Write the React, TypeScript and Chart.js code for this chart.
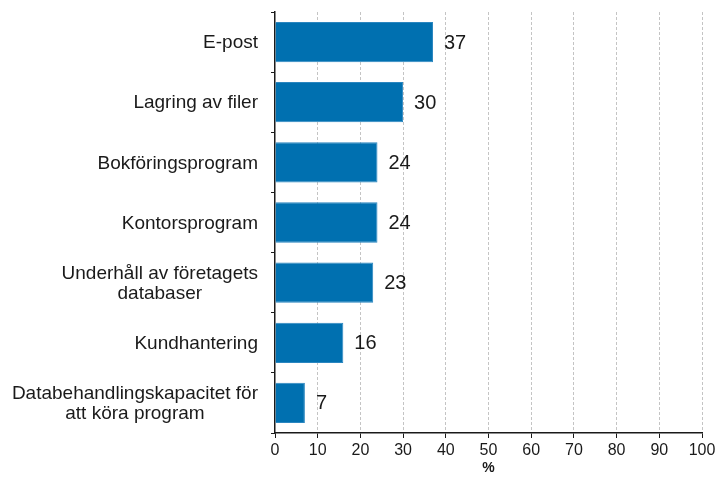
import React, { useEffect, useRef } from "react";
import { Chart, registerables } from "chart.js";

Chart.register(...registerables);

const categories: (string | string[])[] = [
  "E-post",
  "Lagring av filer",
  "Bokföringsprogram",
  "Kontorsprogram",
  ["Underhåll av företagets", "databaser"],
  "Kundhantering",
  ["Databehandlingskapacitet för", "att köra program"],
];
const values = [37, 30, 24, 24, 23, 16, 7];
const xTicks = [0, 10, 20, 30, 40, 50, 60, 70, 80, 90, 100];
const axisTitle = "%";

const FONT = "'Liberation Sans', Arial, sans-serif";
const TEXT = "#1a1a1a";

const valueLabels = {
  id: "valueLabels",
  afterDatasetsDraw(chart: any) {
    const ctx = chart.ctx;
    const meta = chart.getDatasetMeta(0);
    ctx.save();
    ctx.font = `20px ${FONT}`;
    ctx.fillStyle = TEXT;
    ctx.textAlign = "left";
    ctx.textBaseline = "middle";
    meta.data.forEach((bar: any, i: number) => {
      ctx.fillText(String(chart.data.datasets[0].data[i]), bar.x + 11, bar.y + 1);
    });
    ctx.restore();
  },
};

// Category labels: block right-aligned to the axis, lines centred within the block
const categoryLabels = {
  id: "categoryLabels",
  afterDraw(chart: any) {
    const ctx = chart.ctx;
    const yScale = chart.scales.y;
    const rightEdge = yScale.right - 17;
    const lh = 20;
    ctx.save();
    ctx.font = `19px ${FONT}`;
    ctx.fillStyle = TEXT;
    ctx.textBaseline = "middle";
    ctx.textAlign = "center";
    chart.data.labels.forEach((lab: any, i: number) => {
      const lines: string[] = Array.isArray(lab) ? lab : [lab];
      const widest = Math.max(...lines.map((l) => ctx.measureText(l).width));
      const cx = rightEdge - widest / 2;
      const cy = yScale.getPixelForValue(i) + 1;
      const y0 = cy - ((lines.length - 1) * lh) / 2;
      lines.forEach((l, k) => ctx.fillText(l, cx, y0 + k * lh));
    });
    ctx.restore();
  },
};

export default function App() {
  const ref = useRef<HTMLCanvasElement>(null);
  useEffect(() => {
    if (!ref.current) return;
    const chart = new Chart(ref.current, {
      type: "bar",
      data: {
        labels: categories,
        datasets: [
          {
            data: values,
            backgroundColor: "#0070b0",
            borderColor: "#2a86c0",
            borderWidth: 1,
            categoryPercentage: 1,
            barPercentage: 0.67,
          },
        ],
      },
      options: {
        indexAxis: "y",
        animation: false,
        responsive: false,
        maintainAspectRatio: false,
        layout: { padding: { top: 12, right: 18, left: 0, bottom: 0 } },
        plugins: {
          legend: { display: false },
          tooltip: { enabled: false },
        },
        scales: {
          x: {
            min: 0,
            max: 100,
            afterBuildTicks: (scale: any) => {
              scale.ticks = xTicks.map((v) => ({ value: v }));
            },
            afterFit: (scale: any) => {
              scale.height = 44;
              scale.paddingLeft = 0;
              scale.paddingRight = 0;
            },
            grid: {
              color: (c: any) => (c.index === 0 ? "rgba(0,0,0,0)" : "#c4c4c4"),
              tickColor: TEXT,
              tickLength: 5,
              drawOnChartArea: true,
            },
            border: { display: true, color: TEXT, width: 1.5, dash: [3, 2] },
            ticks: {
              color: TEXT,
              font: { family: FONT, size: 16 },
              padding: 3,
              maxRotation: 0,
            },
            title: {
              display: true,
              text: axisTitle,
              color: TEXT,
              font: { family: FONT, size: 14, weight: "bold" },
              padding: { top: -5, bottom: 0 },
            },
          },
          y: {
            afterFit: (scale: any) => {
              scale.width = 275;
              scale.paddingTop = 0;
              scale.paddingBottom = 0;
            },
            grid: {
              offset: true,
              drawOnChartArea: false,
              tickColor: TEXT,
              tickLength: 4,
            },
            border: { display: true, color: TEXT, width: 1.5 },
            ticks: {
              color: "rgba(0,0,0,0)",
              font: { family: FONT, size: 10 },
              padding: 9,
            },
          },
        },
      },
      plugins: [valueLabels, categoryLabels],
    } as any);
    return () => chart.destroy();
  }, []);
  return (
    <div style={{ position: "fixed", left: 0, top: 0, width: 720, height: 477, background: "#fff" }}>
      <canvas ref={ref} width={720} height={477} style={{ width: 720, height: 477 }} />
    </div>
  );
}
